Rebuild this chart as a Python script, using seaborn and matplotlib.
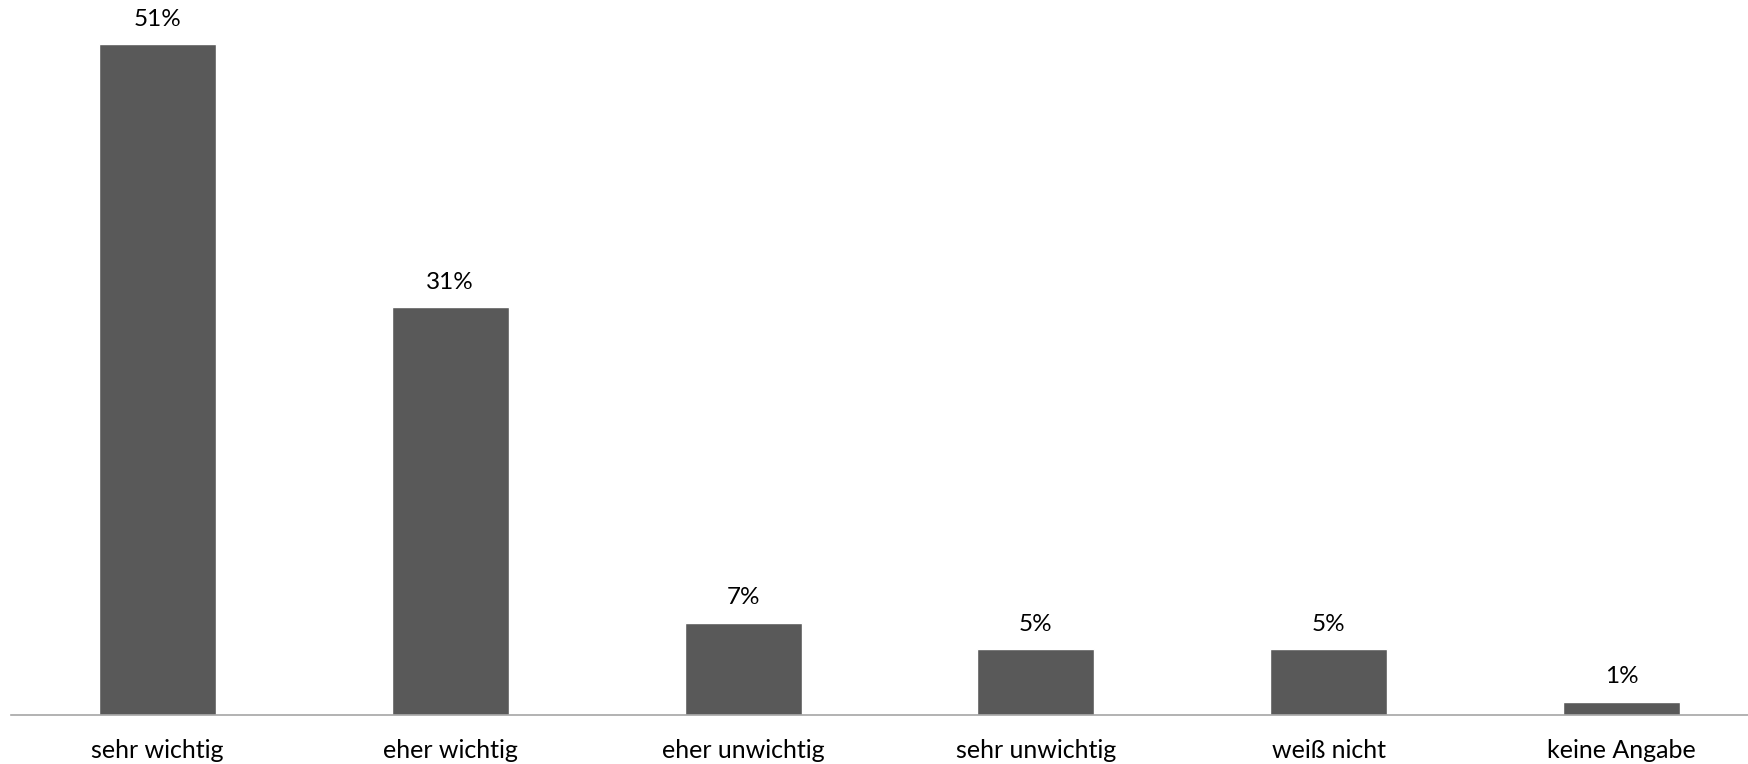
import matplotlib
matplotlib.use("Agg")
import matplotlib.pyplot as plt
import seaborn as sns
import pandas as pd

categories = ["sehr wichtig", "eher wichtig", "eher unwichtig",
              "sehr unwichtig", "weiß nicht", "keine Angabe"]
shares = [51, 31, 7, 5, 5, 1]

sns.set_theme(style="white")
plt.rcParams["font.family"] = ["Lato", "DejaVu Sans"]

df = pd.DataFrame({"Antwort": categories, "Anteil": shares})

fig = plt.figure(figsize=(17.48, 7.64), dpi=100)
ax = fig.add_axes([11 / 1748, 49 / 764, 1757 / 1748, 715 / 764])

sns.barplot(data=df, x="Antwort", y="Anteil", color="#595959",
            saturation=1, width=0.4, ax=ax)

ax.set_xlim(-0.5, len(categories) - 0.5)
ax.set_ylim(0, 54.37)

for patch, val in zip(ax.patches, shares):
    ax.annotate(f"{val:.0f}%",
                (patch.get_x() + patch.get_width() / 2, patch.get_height()),
                xytext=(0, 18), textcoords="offset points",
                ha="center", va="center", fontsize=17.5, color="#000000")

for side in ["top", "right", "left"]:
    ax.spines[side].set_visible(False)
ax.spines["bottom"].set_color("#a6a6a6")
ax.spines["bottom"].set_linewidth(1.2)
ax.set_yticks([])
ax.set_xlabel("")
ax.set_ylabel("")
ax.tick_params(axis="x", length=0, pad=17, labelsize=18, labelcolor="#000000")

fig.savefig("out.png", dpi=100)
